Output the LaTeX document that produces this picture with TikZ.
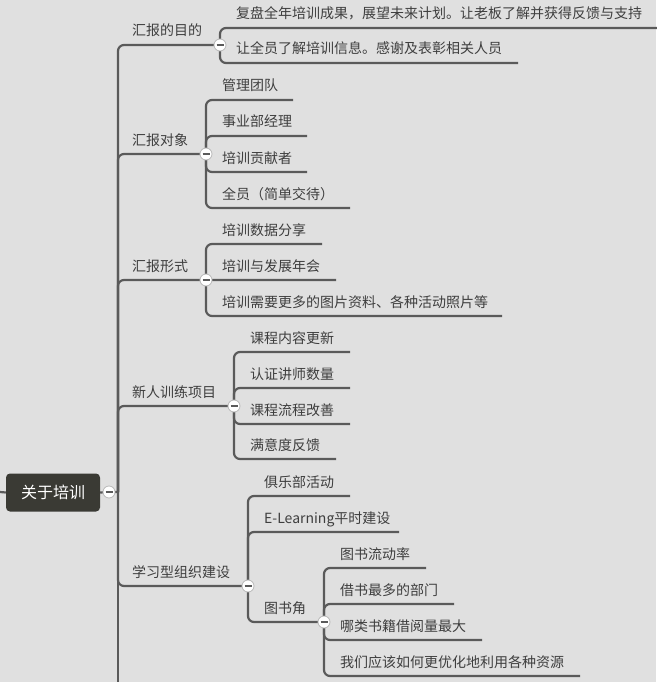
\documentclass[tikz,border=0pt]{standalone}
\usepackage{fontspec}
\setmainfont{Noto Sans CJK SC}
\definecolor{bg}{HTML}{E0E0E0}
\definecolor{ln}{HTML}{5A5A5A}
\definecolor{tx}{HTML}{3E3E3E}
\definecolor{rootc}{HTML}{3A3A34}
\begin{document}
\begin{tikzpicture}[x=1pt,y=-1pt,
  lbl/.style={anchor=base west, inner sep=0pt, text=tx, font=\fontsize{14}{15}\selectfont},
  br/.style={draw=ln, line width=2.2pt, rounded corners=6pt},
  rootbox/.style={fill=rootc, rounded corners=4pt, minimum width=94pt, minimum height=38pt, inner sep=0pt, text=white, font=\fontsize{16}{18}\selectfont},
  tog/.style={circle, draw=gray!55, fill=white, minimum size=12pt, inner sep=0pt, line width=0.8pt,
    path picture={\draw[ln, line width=2pt] ([xshift=-3.5pt]path picture bounding box.center) -- ([xshift=3.5pt]path picture bounding box.center);}}
]
\fill[bg] (0,0) rectangle (656,682);
\useasboundingbox (0,0) rectangle (656,682);

% coordinates
\coordinate (lstub) at (0,492);
\coordinate (k0p) at (109,492);
\coordinate (trunk) at (118,492);
\coordinate (tbot) at (118,690);
\coordinate (c1) at (220,45);
\coordinate (c2) at (206,154);
\coordinate (c3) at (206,280);
\coordinate (c4) at (234,406);
\coordinate (c5) at (248,586);
\coordinate (c6) at (324,622);
\coordinate (e11) at (657,28);
\coordinate (e12) at (518,63);
\coordinate (e21) at (293,100);
\coordinate (e22) at (307,136);
\coordinate (e23) at (307,172);
\coordinate (e24) at (350,208);
\coordinate (e31) at (322,244);
\coordinate (e32) at (336,280);
\coordinate (e33) at (502,316);
\coordinate (e41) at (350,352);
\coordinate (e42) at (350,388);
\coordinate (e43) at (350,424);
\coordinate (e44) at (336,459);
\coordinate (e51) at (350,496);
\coordinate (e52) at (399,532);
\coordinate (e61) at (426,568);
\coordinate (e62) at (454,604);
\coordinate (e63) at (482,640);
\coordinate (e64) at (580,676);

% root
\node[rootbox] (root) at (53,492.5) {关于培训};
\draw[br] (lstub) -- (root.west);
\draw[br] (root.east) -- (k0p) -- (trunk);
\draw[br] (trunk) -- (tbot);

% level 1
\foreach \c in {c1,c2,c3,c4,c5} \draw[br] (trunk) |- (\c);
% level 2
\foreach \e in {e11,e12} \draw[br] (c1) |- (\e);
\foreach \e in {e21,e22,e23,e24} \draw[br] (c2) |- (\e);
\foreach \e in {e31,e32,e33} \draw[br] (c3) |- (\e);
\foreach \e in {e41,e42,e43,e44} \draw[br] (c4) |- (\e);
\foreach \e in {e51,e52,c6} \draw[br] (c5) |- (\e);
\foreach \e in {e61,e62,e63,e64} \draw[br] (c6) |- (\e);

% labels level 1
\node[lbl] (l1) at (132,36) {汇报的目的};
\node[lbl] (l2) at (132,145) {汇报对象};
\node[lbl] (l3) at (132,271) {汇报形式};
\node[lbl] (l4) at (132,397) {新人训练项目};
\node[lbl] (l5) at (132,577) {学习型组织建设};
% labels level 2
\node[lbl] (t11) at (236,19) {复盘全年培训成果，展望未来计划。让老板了解并获得反馈与支持};
\node[lbl] (t12) at (236,54) {让全员了解培训信息。感谢及表彰相关人员};
\node[lbl] (t21) at (222,91) {管理团队};
\node[lbl] (t22) at (222,127) {事业部经理};
\node[lbl] (t23) at (222,163) {培训贡献者};
\node[lbl] (t24) at (222,199) {全员（简单交待）};
\node[lbl] (t31) at (222,235) {培训数据分享};
\node[lbl] (t32) at (222,271) {培训与发展年会};
\node[lbl] (t33) at (222,307) {培训需要更多的图片资料、各种活动照片等};
\node[lbl] (t41) at (250,343) {课程内容更新};
\node[lbl] (t42) at (250,379) {认证讲师数量};
\node[lbl] (t43) at (250,415) {课程流程改善};
\node[lbl] (t44) at (250,450) {满意度反馈};
\node[lbl] (t51) at (264,487) {俱乐部活动};
\node[lbl] (t52) at (264,523) {E-Learning平时建设};
\node[lbl] (t53) at (264,613) {图书角};
\node[lbl] (t61) at (340,559) {图书流动率};
\node[lbl] (t62) at (340,595) {借书最多的部门};
\node[lbl] (t63) at (340,631) {哪类书籍借阅量最大};
\node[lbl] (t64) at (340,667) {我们应该如何更优化地利用各种资源};

% toggles
\node[tog] (k0) at (k0p) {};
\node[tog] (k1) at (c1) {};
\node[tog] (k2) at (c2) {};
\node[tog] (k3) at (c3) {};
\node[tog] (k4) at (c4) {};
\node[tog] (k5) at (c5) {};
\node[tog] (k6) at (c6) {};
\end{tikzpicture}
\end{document}
